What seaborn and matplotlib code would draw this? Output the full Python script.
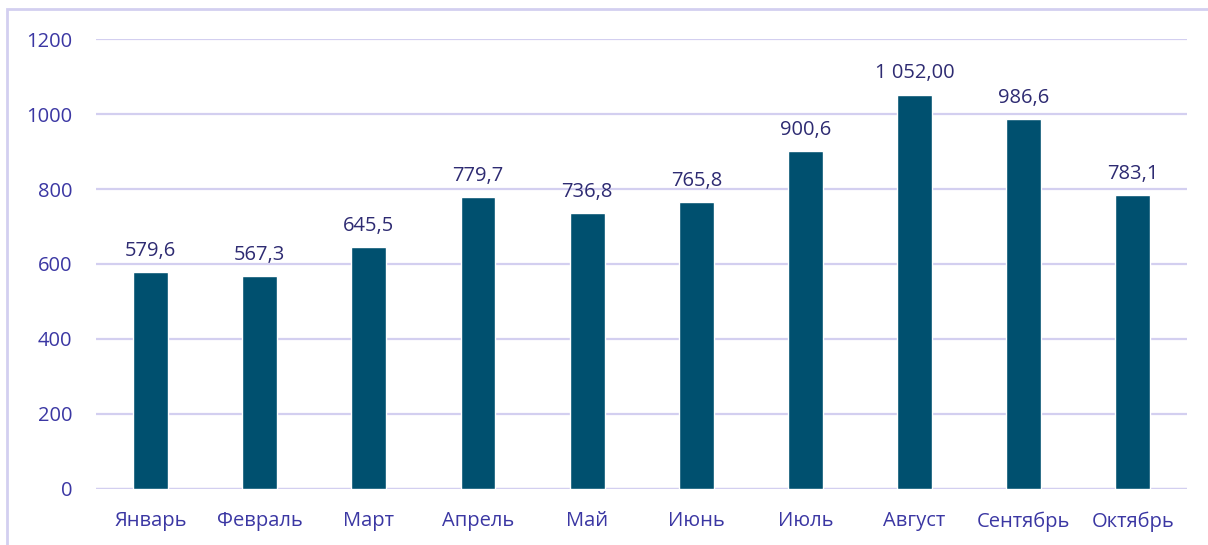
import matplotlib
matplotlib.use("Agg")
import matplotlib.pyplot as plt
import seaborn as sns
import pandas as pd
from matplotlib.patches import Rectangle

months = ["Январь", "Февраль", "Март", "Апрель", "Май", "Июнь", "Июль", "Август", "Сентябрь", "Октябрь"]
values = [579.6, 567.3, 645.5, 779.7, 736.8, 765.8, 900.6, 1052.0, 986.6, 783.1]
labels = ["579,6", "567,3", "645,5", "779,7", "736,8", "765,8", "900,6", "1 052,00", "986,6", "783,1"]
yticks = [0, 200, 400, 600, 800, 1000, 1200]

barColor = "#00506F"
gridColor = "#D3CFF0"
tickColor = "#3B37A3"
labelColor = "#2E2B72"

sns.set_style("white")
plt.rcParams['font.family'] = ['Open Sans', 'DejaVu Sans']

df = pd.DataFrame({"month": months, "value": values})

fig = plt.figure(figsize=(12.08, 5.45), dpi=100)
ax = fig.add_axes([0.0795, 0.1028, 0.9035, 0.8256])

sns.barplot(data=df, x="month", y="value", color=barColor, width=0.32, ax=ax, zorder=3, saturation=1)

ax.set_ylim(0, 1200)
ax.set_xlim(-0.5, len(months) - 0.5)
ax.set_yticks(yticks)
ax.set_yticklabels([str(t) for t in yticks])
ax.yaxis.grid(True, color=gridColor, linewidth=1.6, zorder=0)
ax.set_axisbelow(True)
for s in ax.spines.values():
    s.set_visible(False)
ax.axhline(0, color=gridColor, linewidth=1.6, zorder=1)
ax.set_xlabel("")
ax.set_ylabel("")
ax.tick_params(axis="both", length=0, labelsize=14.5, colors=tickColor)
ax.tick_params(axis="y", pad=17)
ax.tick_params(axis="x", pad=16)

for i, (v, lab) in enumerate(zip(values, labels)):
    ax.annotate(lab, (i, v), xytext=(0, 8), textcoords="offset points",
                ha="center", va="bottom", fontsize=14.5, color=labelColor)

# outer frame
fig.patches.append(Rectangle((7 / 1208, -0.05), 1.2, 1 - 9 / 545 + 0.05, transform=fig.transFigure,
                             fill=False, edgecolor=gridColor, linewidth=2, zorder=0))

fig.savefig("out.png", dpi=100)
